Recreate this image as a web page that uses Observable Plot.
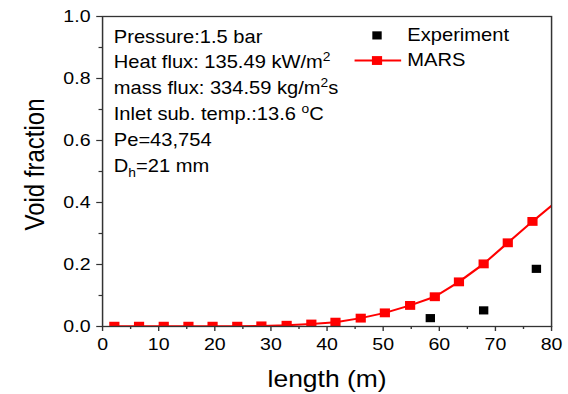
<!DOCTYPE html>
<html><head><meta charset="utf-8">
<script src="https://cdn.jsdelivr.net/npm/d3@7"></script>
<script src="https://cdn.jsdelivr.net/npm/@observablehq/plot@0.6"></script>
<style>body{margin:0;background:#fff} #chart svg{display:block}</style>
</head><body><div id="chart"></div>
<script>
// ---- data ----
const marsLength = [2.1, 6.5, 10.9, 15.3, 19.6, 24.0, 28.3, 32.8, 37.2, 41.5, 46.0, 50.3, 54.8, 59.2, 63.5, 67.9, 72.2, 76.6];
const marsVoid   = [0.001, 0.001, 0.001, 0.001, 0.001, 0.001, 0.002, 0.004, 0.008, 0.014, 0.027, 0.044, 0.068, 0.096, 0.144, 0.202, 0.270, 0.339];
const marsEdgeLength = [80];      // line continues to the frame edge
const marsEdgeVoid   = [0.39];
const expLength = [58.4, 67.9, 77.3];
const expVoid   = [0.027, 0.052, 0.186];
const xTicks = [0, 10, 20, 30, 40, 50, 60, 70, 80];
const xMinorTicks = [5, 15, 25, 35, 45, 55, 65, 75];
const yTicks = [0, 0.2, 0.4, 0.6, 0.8, 1.0];
const yMinorTicks = [0.1, 0.3, 0.5, 0.7, 0.9];
const notes = ["Pressure:1.5 bar", "Heat flux: 135.49 kW/m^{2}", "mass flux: 334.59 kg/m^{2}s", "Inlet sub. temp.:13.6 ^{o}C", "Pe=43,754", "D_{h}=21 mm"];
const seriesNames = ["Experiment", "MARS"];
const xLabel = "length (m)";
const yLabel = "Void fraction";

// ---- build tables ----
const mars = marsLength.map((x, i) => ({x, y: marsVoid[i]}));
const marsLine = mars.concat(marsEdgeLength.map((x, i) => ({x, y: marsEdgeVoid[i]})));
const exp = expLength.map((x, i) => ({x, y: expVoid[i]}));
const noteRows = notes.map((t, i) => ({t, x: 2, y: 0.916 - i * 0.0835}));
const legend = seriesNames.map((name, i) => ({name, y: 0.939 - i * 0.081, mx: 48.9, x1: 44.9, x2: 53.2, tx: 54.3}));

const W = 494, H = 394, OUTW = 568;
const red = "#ff0000";
const axisColor = "#333";

const svg = Plot.plot({
  width: W, height: H,
  marginLeft: 88.7, marginRight: 14.8, marginTop: 16, marginBottom: 68,
  style: {fontFamily: "'Liberation Sans', Arial, sans-serif", fontSize: "17px", color: "black", background: "white"},
  x: {domain: [0, 80]},
  y: {domain: [0, 1]},
  marks: [
    Plot.axisX({ticks: xTicks, tickSize: 5, tickPadding: 6, label: null, fontSize: 17, stroke: axisColor, fill: "black", strokeWidth: 1.2}),
    Plot.axisX({ticks: xMinorTicks, tickSize: 3, text: null, label: null, stroke: axisColor, strokeWidth: 1.2}),
    Plot.axisY({ticks: yTicks, tickFormat: d3.format(".1f"), tickSize: 5, tickPadding: 5.5, label: null, fontSize: 17, stroke: axisColor, fill: "black", strokeWidth: 1.2}),
    Plot.axisY({ticks: yMinorTicks, tickSize: 3, text: null, label: null, stroke: axisColor, strokeWidth: 1.2}),
    Plot.line(marsLine, {x: "x", y: "y", stroke: red, strokeWidth: 2, clip: true}),
    Plot.dot(mars, {x: "x", y: "y", symbol: "square", r: 5, fill: red, clip: true}),
    Plot.dot(exp, {x: "x", y: "y", symbol: "square", r: 4.6, fill: "black", clip: true}),
    Plot.frame({stroke: axisColor, strokeWidth: 1.3}),
    Plot.text(noteRows, {x: "x", y: "y", text: "t", textAnchor: "start", lineAnchor: "bottom", fontSize: 17.5, fill: "black"}),
    // legend
    Plot.dot([legend[0]], {x: "mx", y: "y", symbol: "square", r: 4.6, fill: "black"}),
    Plot.link([legend[1]], {x1: "x1", x2: "x2", y1: "y", y2: "y", stroke: red, strokeWidth: 2}),
    Plot.dot([legend[1]], {x: "mx", y: "y", symbol: "square", r: 5, fill: red}),
    Plot.text(legend, {x: "tx", y: "y", text: "name", textAnchor: "start", lineAnchor: "middle", fontSize: 17.5, fill: "black"}),
    // axis titles
    Plot.text([xLabel], {frameAnchor: "bottom", dy: 60, textAnchor: "middle", lineAnchor: "bottom", fontSize: 23, fill: "black"}),
    Plot.text([yLabel], {frameAnchor: "left", rotate: -90, dx: -59, dy: -7, textAnchor: "middle", lineAnchor: "middle", fontSize: 24, fill: "black"})
  ]
});

// superscripts / subscripts
d3.select(svg).selectAll("text").each(function () {
  const s = this.textContent;
  if (!/[\^_]\{/.test(s)) return;
  const el = d3.select(this);
  el.text(null);
  const parts = s.split(/(\^\{[^}]*\}|_\{[^}]*\})/).filter(p => p);
  let shift = 0;
  for (const p of parts) {
    const t = el.append("tspan");
    let target = 0;
    if (p.startsWith("^{")) { t.text(p.slice(2, -1)).attr("font-size", "12px"); target = -7; }
    else if (p.startsWith("_{")) { t.text(p.slice(2, -1)).attr("font-size", "12px"); target = 5; }
    else t.text(p);
    if (target - shift !== 0) t.attr("dy", target - shift);
    shift = target;
  }
});

// the reference is horizontally stretched; reproduce by scaling the SVG viewBox
svg.setAttribute("viewBox", `0 0 ${W} ${H}`);
svg.setAttribute("width", OUTW);
svg.setAttribute("height", H);
svg.setAttribute("preserveAspectRatio", "none");
svg.style.width = OUTW + "px";
svg.style.height = H + "px";
svg.style.maxWidth = "none";
document.getElementById("chart").appendChild(svg);
</script>
</body></html>
